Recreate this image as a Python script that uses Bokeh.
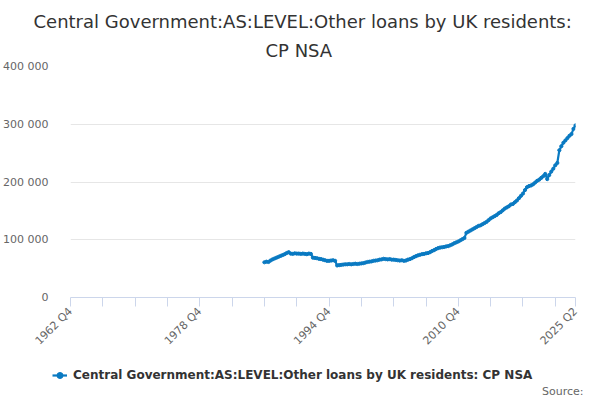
import math
from bokeh.plotting import figure
from bokeh.layouts import column, row
from bokeh.models import (Range1d, FixedTicker, CustomJSTickFormatter, Title,
                          Legend, LegendItem, ColumnDataSource, Label)
from bokeh.embed import file_html
from bokeh.resources import INLINE

title_line1 = "Central Government:AS:LEVEL:Other loans by UK residents:"
title_line2 = "CP NSA"
series_name = "Central Government:AS:LEVEL:Other loans by UK residents: CP NSA"
source_text = "Source:"

axis_start = "1962 Q4"
axis_end = "2025 Q2"
tick_labels = ["1962 Q4", "1978 Q4", "1994 Q4", "2010 Q4", "2025 Q2"]
y_ticks = [0, 100000, 200000, 300000, 400000]

first_quarter = "1986 Q4"
values = [
    61000,
    62000, 61500, 64000, 66000,      # 1987
    67500, 69000, 70500, 72000,      # 1988
    73500, 75000, 77000, 78500,      # 1989
    76000, 75500, 76500, 76000,      # 1990
    76000, 75500, 76000, 75500,      # 1991
    75000, 76000, 75500, 69000,      # 1992
    68500, 68000, 67000, 66500,      # 1993
    65500, 64500, 63500, 63500,      # 1994
    64000, 64500, 63500, 55500,      # 1995
    56000, 56500, 57000, 57500,      # 1996
    57500, 58000, 57500, 58000,      # 1997
    58500, 58000, 58500, 59000,      # 1998
    59500, 60500, 61500, 62000,      # 1999
    62500, 63500, 64000, 64500,      # 2000
    65500, 66000, 67000, 66500,      # 2001
    66000, 66500, 65500, 65500,      # 2002
    65000, 64500, 64000, 64500,      # 2003
    63500, 64000, 65500, 66500,      # 2004
    68000, 70000, 71500, 73000,      # 2005
    74000, 75000, 75500, 76500,      # 2006
    77000, 78500, 80500, 82000,      # 2007
    84000, 85500, 86500, 87000,      # 2008
    87500, 88500, 89000, 90500,      # 2009
    92000, 94000, 95500, 97000,      # 2010
    99000, 101000, 103000, 112000,   # 2011
    114000, 116000, 118000, 120000,  # 2012
    122000, 124000, 125000, 127000,  # 2013
    129000, 131000, 134000, 137000,  # 2014
    139000, 141000, 143000, 146000,  # 2015
    148000, 151000, 154000, 156000,  # 2016
    158000, 161000, 162000, 165000,  # 2017
    168000, 172000, 176000, 180000,  # 2018
    186000, 191000, 193000, 194000,  # 2019
    196000, 199000, 202000, 204000,  # 2020
    207000, 210000, 214000, 205000,  # 2021
    212000, 218000, 223000, 229000,  # 2022
    233000, 255000, 262000, 268000,  # 2023
    272000, 276000, 280000, 283000,  # 2024
    292000, 298000,                  # 2025
]


def qindex(label):
    y, q = label.split(" Q")
    return int(y) * 4 + int(q)


base = qindex(axis_start)
x_end = qindex(axis_end) - base
start = qindex(first_quarter) - base
xs = [start + i for i in range(len(values))]
src = ColumnDataSource(dict(x=xs, y=values))

FONT = "DejaVu Sans"
COLOR = "#0a7ac2"
W = 584

# ---------------- main chart
p = figure(width=W, height=355, output_backend="svg", toolbar_location=None,
           x_range=Range1d(0, x_end), y_range=Range1d(0, 400000),
           min_border_left=64, min_border_right=9, min_border_top=66,
           min_border_bottom=58, title=None)
p.outline_line_color = None

line = p.line("x", "y", source=src, line_color=COLOR, line_width=2.2)
pts = p.scatter("x", "y", source=src, size=3.2, fill_color=COLOR, line_color=COLOR)

major_pos = [qindex(t) - base for t in tick_labels]
minor_pos = [v for v in range(0, x_end + 1, 16) if v not in major_pos]
p.xaxis.ticker = FixedTicker(ticks=major_pos, minor_ticks=minor_pos)
p.xaxis.major_label_overrides = {pos: lab for pos, lab in zip(major_pos, tick_labels)}
p.xaxis.major_label_orientation = math.pi / 4
p.xaxis.axis_line_color = "#ccd6eb"
p.xaxis.major_tick_line_color = "#ccd6eb"
p.xaxis.minor_tick_line_color = "#ccd6eb"
p.xaxis.major_tick_in = 0
p.xaxis.major_tick_out = 9
p.xaxis.minor_tick_in = 0
p.xaxis.minor_tick_out = 9
p.xaxis.major_label_text_font = FONT
p.xaxis.major_label_text_font_size = "11px"
p.xaxis.major_label_text_color = "#666666"
p.xaxis.major_label_standoff = 3

p.yaxis.ticker = FixedTicker(ticks=y_ticks)
p.yaxis.formatter = CustomJSTickFormatter(
    code='return Math.round(tick).toString().replace(/\\B(?=(\\d{3})+(?!\\d))/g, " ");')
p.yaxis.axis_line_color = None
p.yaxis.major_tick_line_color = None
p.yaxis.minor_tick_line_color = None
p.yaxis.major_label_standoff = 16
p.yaxis.major_label_text_font = FONT
p.yaxis.major_label_text_font_size = "11px"
p.yaxis.major_label_text_color = "#666666"

p.xgrid.grid_line_color = None
p.ygrid.grid_line_color = "#e6e6e6"

# two-line title, each line centred on the canvas
p.add_layout(Title(text=title_line2, align="left", offset=195, text_font=FONT,
                   text_font_size="18px", text_font_style="normal",
                   text_color="#333333", standoff=12), "above")
p.add_layout(Title(text=title_line1, align="left", offset=-37, text_font=FONT,
                   text_font_size="18px", text_font_style="normal",
                   text_color="#333333", standoff=0), "above")

# ---------------- legend / source strip (shares the data source; its ranges
# keep the series itself out of view so only the legend entry shows)
s = figure(width=W, height=43, output_backend="svg", toolbar_location=None,
           x_range=p.x_range, y_range=Range1d(-2, -1),
           x_axis_location=None, y_axis_location=None, min_border=0, title=None)
s.outline_line_color = None
s.xgrid.visible = False
s.ygrid.visible = False
lg_line = s.line("x", "y", source=src, line_color=COLOR, line_width=2.2)
lg_pts = s.scatter("x", "y", source=src, size=4, fill_color=COLOR, line_color=COLOR)
legend = Legend(items=[LegendItem(label=series_name, renderers=[lg_line, lg_pts])],
                location=(52, 13), orientation="horizontal",
                label_text_font=FONT, label_text_font_size="12px",
                label_text_font_style="bold", label_text_color="#333333",
                border_line_color=None, background_fill_alpha=0,
                glyph_width=15, label_standoff=6, padding=0, margin=0)
s.add_layout(legend, "center")
s.add_layout(Label(x=583, y=7, x_units="screen", y_units="screen",
                   text=source_text, text_align="right", text_baseline="middle",
                   text_font=FONT, text_font_size="11px", text_color="#666666"))

layout = column(p, row(s), spacing=0)
open("out.html", "w").write(file_html(layout, INLINE))
